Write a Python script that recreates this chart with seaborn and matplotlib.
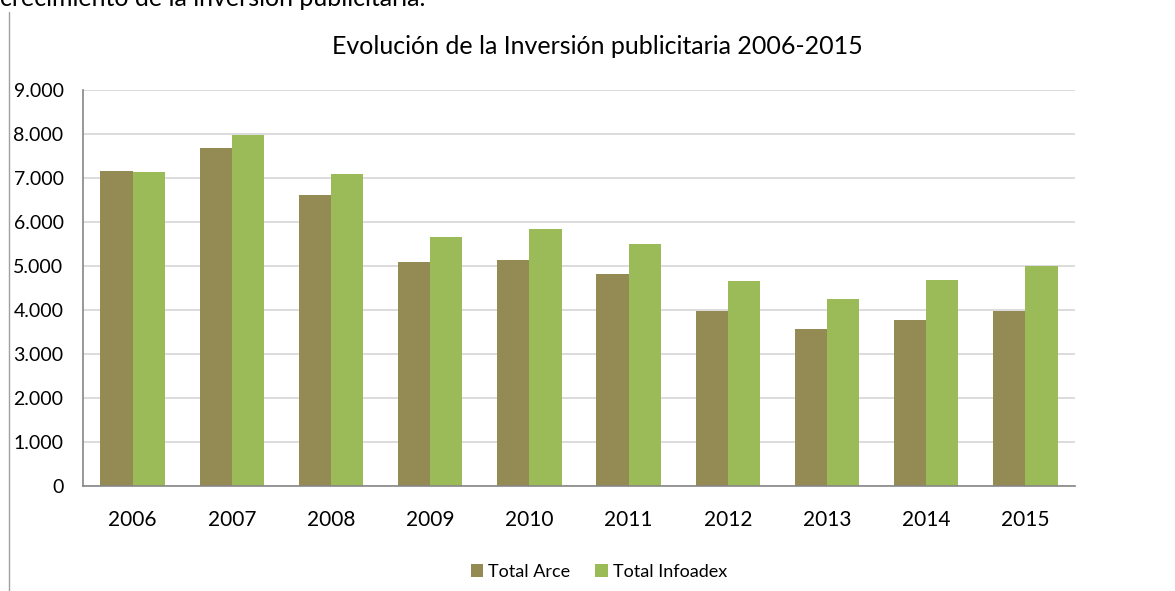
import matplotlib
matplotlib.use("Agg")
import matplotlib.pyplot as plt
from matplotlib.lines import Line2D
from matplotlib.ticker import FuncFormatter
import seaborn as sns
import pandas as pd

# datos
anios = ["2006", "2007", "2008", "2009", "2010", "2011", "2012", "2013", "2014", "2015"]
total_arce = [7170, 7690, 6610, 5090, 5130, 4810, 3970, 3570, 3770, 3970]
total_infoadex = [7130, 7970, 7090, 5650, 5850, 5490, 4650, 4250, 4690, 5010]
series = ["Total Arce", "Total Infoadex"]
colores = ["#948A54", "#9BBB59"]

datos = pd.DataFrame({
    "Año": anios * 2,
    "Inversion": total_arce + total_infoadex,
    "Serie": [series[0]] * len(anios) + [series[1]] * len(anios),
})

sns.set_theme(style="white")
plt.rcParams["font.family"] = ["Lato", "DejaVu Sans"]
plt.rcParams["text.color"] = "black"

fig = plt.figure(figsize=(11.75, 5.91), dpi=100)
ax = fig.add_axes([0.0706, 0.1777, 0.8443, 0.67])

sns.barplot(data=datos, x="Año", y="Inversion", hue="Serie", palette=colores,
            width=0.65, saturation=1, linewidth=0, ax=ax, legend=True)

ax.set_ylim(0, 9000)
ax.set_yticks(range(0, 9001, 1000))
ax.yaxis.set_major_formatter(FuncFormatter(lambda v, p: f"{int(v):,}".replace(",", ".")))
ax.grid(axis="y", color="#D9D9D9", linewidth=1.3)
ax.set_axisbelow(True)
ax.set_xlabel("")
ax.set_ylabel("")
for s in ["top", "right"]:
    ax.spines[s].set_visible(False)
ax.spines["left"].set_color("#868686")
ax.spines["bottom"].set_color("#868686")
ax.spines["left"].set_linewidth(1.2)
ax.spines["bottom"].set_linewidth(1.2)
ax.tick_params(axis="y", length=0, pad=14, labelsize=14, labelcolor="black")
ax.tick_params(axis="x", length=0, pad=17, labelsize=15, labelcolor="black")

ax.legend(loc="upper center", bbox_to_anchor=(0.52, -0.155), ncol=2, frameon=False,
          fontsize=13, handlelength=0.7, handleheight=0.7, handletextpad=0.25,
          columnspacing=1.4)

fig.text(0.508, 0.922, "Evolución de la Inversión publicitaria 2006-2015",
         ha="center", va="center", fontsize=18)
fig.text(0.0, 0.99, "crecimiento de la inversión publicitaria.",
         ha="left", va="baseline", fontsize=18)
fig.add_artist(Line2D([0.0075, 0.0075], [0.0, 0.98], color="#A0A0A0", linewidth=1))

fig.savefig("out.png", dpi=100, facecolor="white")
